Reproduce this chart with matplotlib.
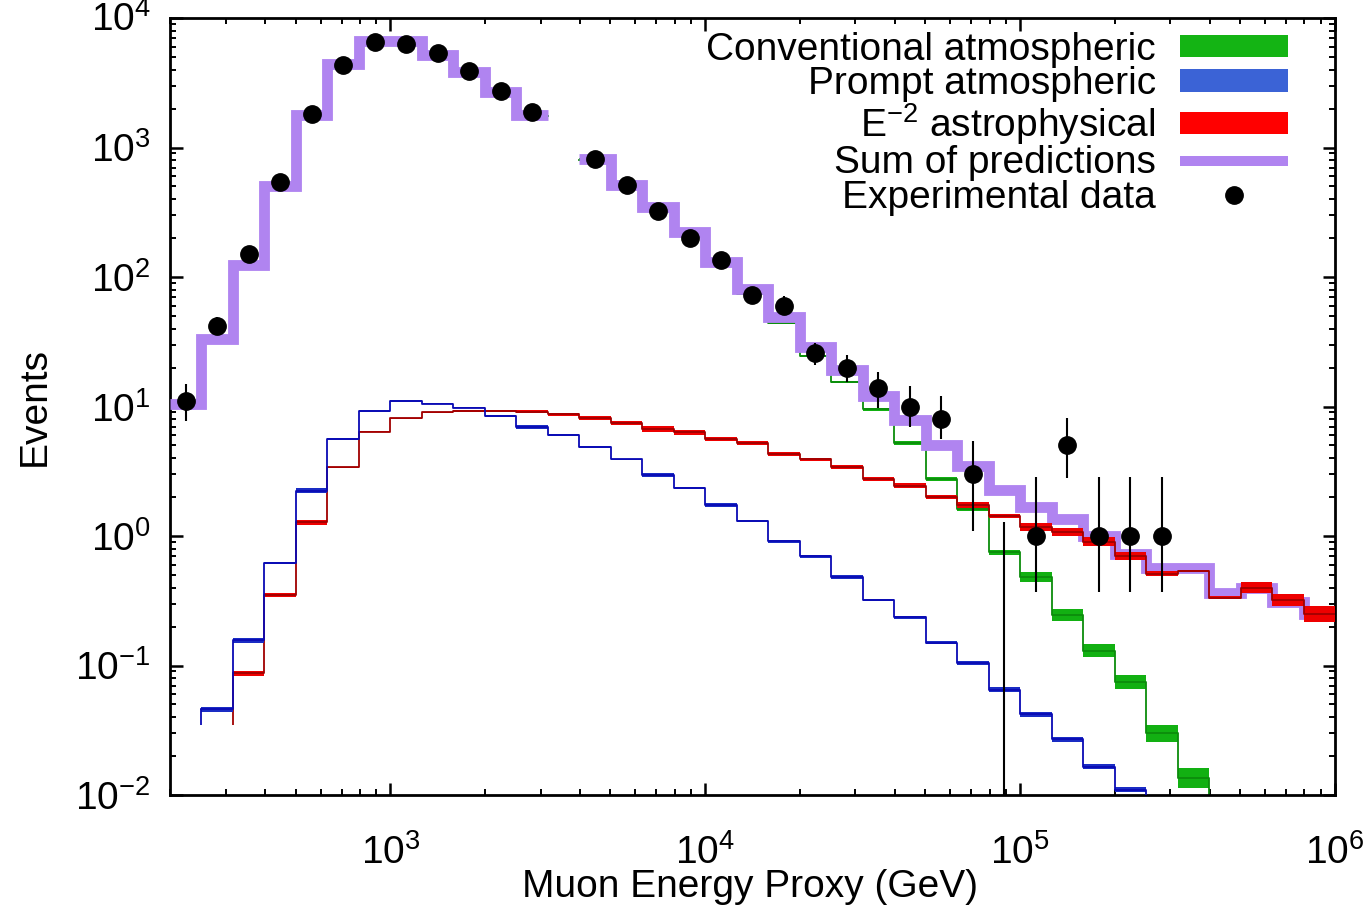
import numpy as np
import matplotlib
matplotlib.use("Agg")
import matplotlib.pyplot as plt
import matplotlib.transforms as mtransforms
from matplotlib.patches import Patch
from matplotlib.lines import Line2D
from matplotlib.ticker import LogLocator, NullFormatter

plt.rcParams['font.family'] = ['Liberation Sans', 'DejaVu Sans']
plt.rcParams['mathtext.fontset'] = 'custom'
plt.rcParams['mathtext.rm'] = 'Liberation Sans'
plt.rcParams['mathtext.it'] = 'Liberation Sans:italic'
plt.rcParams['mathtext.bf'] = 'Liberation Sans:bold'
plt.rcParams['axes.unicode_minus'] = False

nan = np.nan

# ---- binning: log10(E/GeV) from 2.3 to 6.0 in steps of 0.1 ----
log_e_min, log_e_max, n_bins = 2.3, 6.0, 37
edges = np.logspace(log_e_min, log_e_max, n_bins + 1)
centers = np.sqrt(edges[:-1] * edges[1:])

# ---- predictions per bin (events) ----
conventional = [10.5, 33, 124, 499, 1766, 4440, 6584, 6580, 5130, 3830, 2682, 1754, nan,
                807, 504, 335, 214, 124, 74.5, 44, 24.5, 15.5, 9.5, 5.2, 2.77, 1.62, 0.75,
                0.48, 0.245, 0.13, 0.075, 0.030, 0.0135, 0.004, 0.0015, 0.0006, 0.0002]
conventional_dex = [0.01] * 22 + [0.012, 0.015, 0.015, 0.018, 0.02, 0.04, 0.045, 0.05,
                                  0.055, 0.065, 0.08, 0.08, 0.08, 0.08, 0.08]

prompt = [nan, 0.046, 0.156, 0.62, 2.23, 5.6, 9.3, 11.0, 10.5, 9.8, 8.5, 7.0, 6.0, 4.9, 3.9,
          2.96, 2.36, 1.74, 1.3, 0.91, 0.70, 0.48, 0.32, 0.235, 0.15, 0.105, 0.065, 0.042,
          0.027, 0.0165, 0.011, 0.007, 0.0045, 0.003, 0.002, 0.0013, 0.0008]
prompt_dex = [0.02, 0.02, 0.02, 0.005, 0.02, 0.005, 0.008, 0.008, 0.003, 0.005, 0.008, 0.015,
              0.008, 0.008, 0.005, 0.015, 0.008, 0.015, 0.008, 0.012, 0.012, 0.015, 0.01,
              0.015, 0.01, 0.015, 0.02, 0.02, 0.02, 0.02, 0.02, 0.02, 0.02, 0.02, 0.02, 0.02, 0.02]

astro = [nan, nan, 0.087, 0.35, 1.28, 3.4, 6.4, 8.1, 9.0, 9.3, 9.3, 9.1, 8.7, 8.2, 7.4, 6.7,
         6.3, 5.6, 5.2, 4.3, 3.9, 3.4, 2.77, 2.44, 2.0, 1.74, 1.43, 1.17, 1.07, 0.90, 0.70,
         0.51, 0.535, 0.335, 0.40, 0.32, 0.25]
astro_dex = [0.02, 0.02, 0.02, 0.015, 0.02, 0.005, 0.005, 0.005, 0.005, 0.008, 0.008, 0.012,
             0.01, 0.015, 0.015, 0.02, 0.02, 0.015, 0.015, 0.015, 0.01, 0.015, 0.015, 0.02,
             0.015, 0.025, 0.015, 0.03, 0.03, 0.035, 0.03, 0.02, 0.01, 0.015, 0.045, 0.045, 0.06]

sum_pred = [10.5, 33, 124, 500, 1770, 4450, 6600, 6600, 5150, 3850, 2700, 1770, nan, 820,
            515, 345, 223, 131, 81, 49, 29, 19, 12, 7.8, 5.0, 3.5, 2.25, 1.66, 1.35, 1.0,
            0.72, 0.565, 0.57, 0.36, 0.395, 0.31, 0.25]

# ---- experimental data ----
data_counts = [11, 42, 150, 540, 1800, 4350, 6500, 6300, 5350, 3900, 2750, 1870, nan, 810,
               510, 325, 200, 135, 73, 60, 26, 20, 14, 10, 8, 3, 0, 1, 5, 1, 1, 1,
               nan, nan, nan, nan, nan]
data_err_lo = [3.3, 6.5, 12, 23, 42, 66, 81, 79, 73, 62, 52, 43, nan, 28, 23, 18, 14, 11.6,
               8.5, 8, 5, 4.5, 4.2, 3.0, 2.4, 1.9, 0, 0.63, 2.2, 0.63, 0.63, 0.63,
               nan, nan, nan, nan, nan]
data_err_hi = [3.8, 7, 12, 23, 42, 66, 81, 79, 73, 62, 52, 43, nan, 28, 23, 18, 14, 11.6,
               8.5, 11, 5, 4.8, 4.6, 4.5, 4.0, 2.4, 1.29, 1.87, 3.2, 1.87, 1.87, 1.87,
               nan, nan, nan, nan, nan]

labels = ["Conventional atmospheric", "Prompt atmospheric",
          r"E$^{\mathdefault{-2}}$ astrophysical", "Sum of predictions", "Experimental data"]

# ---- styles ----
c_green_fill, c_green_line, c_green_leg = '#12b012', '#0c8c0c', '#14b414'
c_blue_fill, c_blue_line, c_blue_leg = '#1a2cc4', '#0a0ab4', '#3b63d6'
c_red_fill, c_red_line, c_red_leg = '#ee0000', '#a00000', '#ff0000'
c_purple = '#b084f0'
line_floor = 0.035

fig = plt.figure(figsize=(13.69, 9.08), dpi=100)
ax = fig.add_axes([170 / 1369, 1 - 795 / 908, 1165 / 1369, 777 / 908])
ax.set_xscale('log')
ax.set_yscale('log')


def draw_component(vals, dex, fill_c, line_c, z, floor_start=False):
    vals = np.asarray(vals, float)
    dex = np.asarray(dex, float)
    lo = vals * 10 ** (-dex)
    hi = vals * 10 ** dex
    ax.fill_between(edges, np.append(lo, lo[-1]), np.append(hi, hi[-1]), step='post',
                    color=fill_c, lw=0, zorder=z)
    ax.plot(edges, np.append(vals, vals[-1]), drawstyle='steps-post', color=line_c,
            lw=1.3, zorder=z + 0.1)
    if floor_start:
        first = np.flatnonzero(~np.isnan(vals))[0]
        ax.vlines(edges[first], line_floor, vals[first], color=line_c, lw=1.3, zorder=z + 0.1)


draw_component(conventional, conventional_dex, c_green_fill, c_green_line, 2)
sp = np.asarray(sum_pred, float)
ax.plot(edges, np.append(sp, sp[-1]), drawstyle='steps-post', color=c_purple, lw=7.8,
        solid_joinstyle='miter', solid_capstyle='butt', zorder=3)
draw_component(astro, astro_dex, c_red_fill, c_red_line, 4, floor_start=True)
draw_component(prompt, prompt_dex, c_blue_fill, c_blue_line, 5, floor_start=True)

counts = np.asarray(data_counts, float)
elo = np.asarray(data_err_lo, float)
ehi = np.asarray(data_err_hi, float)
pos = counts > 0
ax.errorbar(centers[pos], counts[pos], yerr=[elo[pos], ehi[pos]], fmt='o', color='k',
            ms=12.5, elinewidth=1.5, capsize=0, zorder=8)
zero = counts == 0
ax.vlines(centers[zero], 1e-3, ehi[zero], color='k', lw=1.5, zorder=8)

ax.set_xlim(edges[0], 1e6)
ax.set_ylim(1e-2, 1e4)

y_major = [1e-2, 1e-1, 1e0, 1e1, 1e2, 1e3, 1e4]
ax.xaxis.set_major_locator(LogLocator(base=10, numticks=20))
ax.set_yticks(y_major)
ax.xaxis.set_minor_locator(LogLocator(base=10, subs=np.arange(2, 10), numticks=50))
ax.yaxis.set_minor_locator(LogLocator(base=10, subs=np.arange(2, 10), numticks=50))
ax.xaxis.set_minor_formatter(NullFormatter())
ax.yaxis.set_minor_formatter(NullFormatter())
ax.tick_params(which='both', direction='in', top=True, right=True, labelsize=28)
ax.tick_params(which='major', length=9, width=1.8)
ax.tick_params(which='minor', length=4.5, width=1.4)
ax.tick_params(axis='x', which='major', pad=28)
ax.tick_params(axis='y', which='major', pad=14)
for s in ax.spines.values():
    s.set_linewidth(2)

ax.set_xlabel("Muon Energy Proxy (GeV)", fontsize=28)
ax.set_ylabel("Events", fontsize=28)
ax.xaxis.set_label_coords(0.498, -0.095)
ax.yaxis.set_label_coords(-0.101, 0.5)

handles = [Patch(facecolor=c_green_leg, edgecolor='none'),
           Patch(facecolor=c_blue_leg, edgecolor='none'),
           Patch(facecolor=c_red_leg, edgecolor='none'),
           Line2D([], [], color=c_purple, lw=7.2, solid_capstyle='butt'),
           Line2D([], [], color='k', marker='o', ls='none', ms=12.5)]
leg = ax.legend(handles, labels, loc='upper right', bbox_to_anchor=(0.9597, 0.982),
                markerfirst=False, frameon=False, fontsize=28, handlelength=2.78,
                handleheight=0.51, handletextpad=0.62, labelspacing=-0.04,
                borderpad=0, borderaxespad=0)
leg.set_zorder(10)

# keep the topmost y tick label (at the upper axis edge) inside the canvas
top_label = ax.get_yticklabels()[-1]
top_label.set_verticalalignment('top')
top_label.set_transform(top_label.get_transform()
                        + mtransforms.ScaledTranslation(0, 12 / 72, fig.dpi_scale_trans))

fig.savefig("out.png", dpi=100)
